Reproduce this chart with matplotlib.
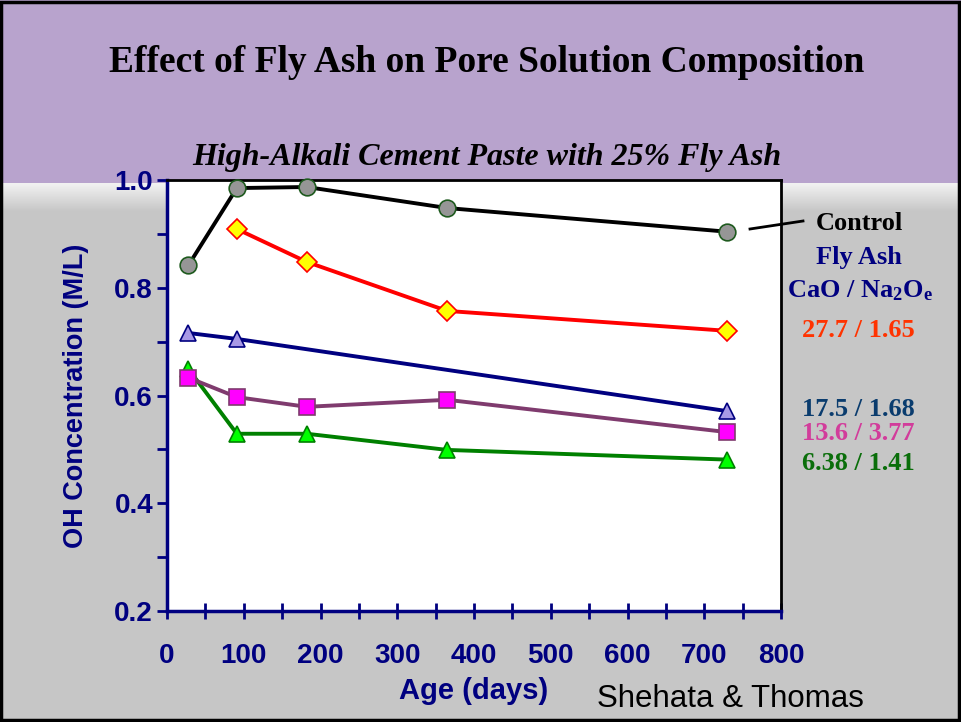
import matplotlib.pyplot as plt
import numpy as np
from matplotlib.patches import Rectangle
from matplotlib.lines import Line2D
from matplotlib.colors import LinearSegmentedColormap

plt.rcParams['mathtext.fontset'] = 'custom'
plt.rcParams['mathtext.rm'] = 'Liberation Serif:bold'
plt.rcParams['mathtext.bf'] = 'Liberation Serif:bold'
plt.rcParams['mathtext.it'] = 'Liberation Serif:bold'

# age (days)
days = [28, 91, 182, 365, 730]

control = [0.842, 0.985, 0.987, 0.948, 0.904]
fa_277 = [None, 0.909, 0.848, 0.757, 0.720]
fa_175 = [0.716, 0.705, None, None, 0.571]
fa_136 = [0.633, 0.597, 0.579, 0.592, 0.532]
fa_638 = [0.649, 0.529, 0.529, 0.499, 0.481]

W, H = 961, 722
navy = '#000080'

fig = plt.figure(figsize=(W / 100, H / 100), dpi=100)
fig.patch.set_facecolor('#c6c6c6')

# background (purple header, shading band, border)
bg = fig.add_axes([0, 0, 1, 1], zorder=-10)
bg.set_xlim(0, W)
bg.set_ylim(H, 0)
bg.axis('off')
bg.add_patch(Rectangle((0, 0), W, 183, color='#b8a3cd', lw=0))
grad = np.linspace(0, 1, 30).reshape(-1, 1)
bg.imshow(grad, extent=(0, W, 212, 183), cmap=LinearSegmentedColormap.from_list('g', ['#f2f2f2', '#c6c6c6']),
          aspect='auto', zorder=1)
bg.add_patch(Rectangle((1, 1.5), W - 3, H - 4, fill=False, ec='black', lw=2.5, zorder=5))

fig.text(487 / W, 1 - 62 / H, 'Effect of Fly Ash on Pore Solution Composition', ha='center', va='center',
         family='Liberation Serif', weight='bold', fontsize=27)
fig.text(487 / W, 1 - 158 / H, 'High-Alkali Cement Paste with 25% Fly Ash', ha='center', va='center',
         family='Liberation Serif', weight='bold', style='italic', fontsize=23)

ax = fig.add_axes([167 / W, 1 - 611 / H, 614 / W, 431 / H])
ax.set_facecolor('white')


def series(vals):
    xs = [d for d, v in zip(days, vals) if v is not None]
    ys = [v for v in vals if v is not None]
    return xs, ys


lw = 2.8
x, y = series(control)
ax.plot(x, y, color='black', lw=lw, marker='o', ms=12, mfc='#969696', mec='#1e5a1e', mew=1.2, clip_on=False, zorder=5)
x, y = series(fa_277)
ax.plot(x, y, color='#ff0000', lw=lw, marker='D', ms=10, mfc='#ffff00', mec='#ff0000', mew=1.2, clip_on=False, zorder=5)
x, y = series(fa_175)
ax.plot(x, y, color=navy, lw=lw, marker='^', ms=12, mfc='#a899e6', mec=navy, mew=1.2, clip_on=False, zorder=4)
x, y = series(fa_136)
ax.plot(x, y, color='#7f3b6e', lw=lw, marker='s', ms=11, mfc='#ff00ff', mec='#7f3b6e', mew=1.2, clip_on=False, zorder=4)
x, y = series(fa_638)
ax.plot(x, y, color='#008000', lw=lw, marker='^', ms=12, mfc='#00ff00', mec='#008000', mew=1.2, clip_on=False, zorder=3)

ax.set_xlim(0, 800)
ax.set_ylim(0.2, 1.0)
ax.set_xticks(range(0, 801, 100))
ax.set_xticks(range(50, 800, 100), minor=True)
ax.set_yticks([0.2, 0.4, 0.6, 0.8, 1.0])
ax.set_yticks([0.3, 0.5, 0.7, 0.9], minor=True)
ax.set_yticklabels(['0.2', '0.4', '0.6', '0.8', '1.0'])

for s in ['left', 'bottom']:
    ax.spines[s].set_color(navy)
    ax.spines[s].set_linewidth(2.5)
for s in ['top', 'right']:
    ax.spines[s].set_color('black')
    ax.spines[s].set_linewidth(2)

ax.tick_params(axis='x', which='both', direction='inout', length=12, width=2, color=navy,
               labelcolor=navy, pad=17)
ax.tick_params(axis='y', which='both', direction='out', length=7, width=2, color=navy,
               labelcolor=navy, pad=3)
for lab in ax.get_xticklabels() + ax.get_yticklabels():
    lab.set_family('Liberation Sans')
    lab.set_weight('bold')
    lab.set_fontsize(20)

ax.set_xlabel('Age (days)', family='Liberation Sans', weight='bold', fontsize=21, color=navy, labelpad=6)
ax.set_ylabel('OH Concentration (M/L)', family='Liberation Sans', weight='bold', fontsize=19.5, color=navy,
              labelpad=18)

fig.text(730 / W, 1 - 699 / H, 'Shehata & Thomas', ha='center', va='center', family='Liberation Sans',
         fontsize=22.5, color='black')

# connector from last control point to its label
fig.add_artist(Line2D([750 / W, 803 / W], [1 - 229 / H, 1 - 221 / H], color='black', lw=2, zorder=10))

serif = dict(family='Liberation Serif', weight='bold', ha='center', va='center', fontsize=19)
fig.text(859 / W, 1 - 223 / H, 'Control', color='black', **serif)
fig.text(859 / W, 1 - 258 / H, 'Fly Ash', color=navy, **serif)
fig.text(860 / W, 1 - 291 / H, r'CaO / Na$_{2}$O$_{e}$', color=navy, **serif)
fig.text(858 / W, 1 - 330 / H, '27.7 / 1.65', color='#ff3300', **serif)
fig.text(858 / W, 1 - 409 / H, '17.5 / 1.68', color='#0a3c6e', **serif)
fig.text(858 / W, 1 - 434 / H, '13.6 / 3.77', color='#d23c9b', **serif)
fig.text(858 / W, 1 - 464 / H, '6.38 / 1.41', color='#0a6e0a', **serif)

fig.savefig('out.png', dpi=100, facecolor=fig.get_facecolor())
